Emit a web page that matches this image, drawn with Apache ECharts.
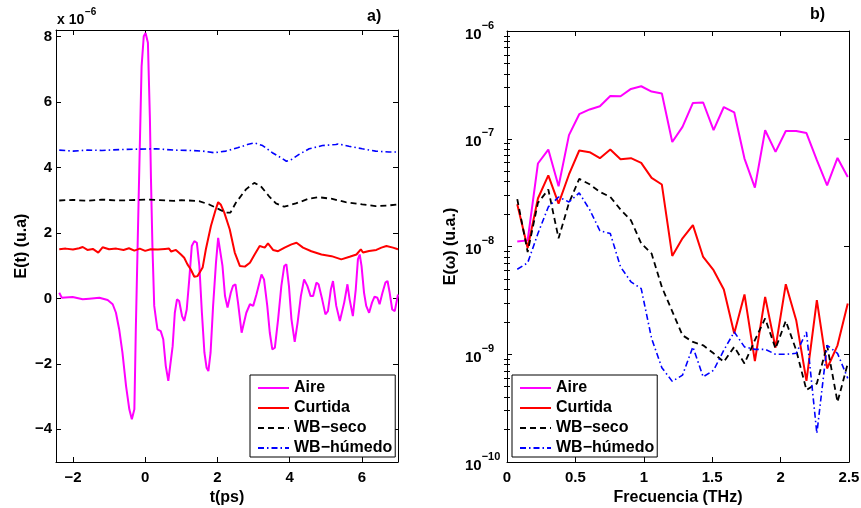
<!DOCTYPE html>
<html><head><meta charset="utf-8">
<script src="https://cdn.jsdelivr.net/npm/echarts@6/dist/echarts.min.js"></script>
<style>html,body{margin:0;padding:0;background:#fff}#c{width:861px;height:508px}</style>
</head><body><div id="c"></div>
<script>
// ---------- Data: panel a) time domain (values in units of 1e-6) ----------
const aireT = [-2.38,-2.31,-2.28,-2.01,-1.73,-1.55,-1.27,-1.04,-0.90,-0.81,-0.72,-0.63,-0.53,-0.44,-0.37,-0.30,-0.28,-0.26,-0.21,-0.17,-0.10,-0.04,0.01,0.075,0.13,0.16,0.20,0.25,0.30,0.34,0.43,0.50,0.57,0.64,0.69,0.76,0.82,0.88,0.94,1.02,1.08,1.15,1.22,1.29,1.36,1.43,1.50,1.57,1.64,1.70,1.75,1.81,1.88,1.96,2.02,2.07,2.14,2.21,2.28,2.37,2.43,2.50,2.57,2.67,2.71,2.80,2.90,2.99,3.08,3.22,3.29,3.38,3.45,3.52,3.59,3.68,3.77,3.85,3.91,3.98,4.05,4.14,4.22,4.31,4.40,4.49,4.58,4.65,4.74,4.80,4.90,4.99,5.06,5.14,5.20,5.29,5.39,5.43,5.51,5.60,5.66,5.75,5.83,5.89,5.94,5.99,6.06,6.12,6.20,6.28,6.35,6.43,6.49,6.57,6.65,6.71,6.77,6.84,6.91,7.00];
const aireV = [0.17,0.02,0.01,0.04,-0.03,-0.01,0.02,-0.05,-0.18,-0.44,-0.95,-1.66,-2.68,-3.39,-3.69,-3.39,-2.2,-0.95,1.6,3.63,7.09,8.01,8.11,7.81,5.5,3.63,1.6,-0.23,-0.64,-0.95,-1.0,-1.25,-2.07,-2.52,-2.47,-1.46,-0.44,-0.03,-0.08,-0.54,-0.69,-0.34,0.58,1.6,1.75,1.7,0.99,-0.44,-1.66,-2.12,-2.22,-1.66,-0.23,1.09,1.85,1.88,0.99,0.07,-0.28,0.17,0.38,0.43,-0.13,-1.05,-1.07,-0.44,-0.18,-0.23,0.12,0.73,0.58,-0.23,-1.05,-1.56,-1.51,-0.64,0.38,0.99,1.04,0.38,-0.64,-1.33,-0.74,0.07,0.58,0.38,0.07,0.07,0.48,0.43,-0.03,-0.49,-0.39,0.27,0.53,-0.23,-0.69,-0.64,-0.13,0.43,-0.03,-0.54,0.27,1.19,1.34,0.99,0.17,-0.23,-0.44,-0.13,0.05,0.02,-0.18,0.17,0.48,0.53,0.17,-0.34,-0.39,0.12];

const curtT = [-2.38,-2.2,-2.0,-1.83,-1.73,-1.6,-1.45,-1.30,-1.18,-1.0,-0.8,-0.6,-0.45,-0.3,-0.15,0.0,0.15,0.35,0.55,0.66,0.72,0.85,0.99,1.08,1.17,1.26,1.36,1.45,1.59,1.68,1.82,1.94,2.02,2.09,2.19,2.34,2.48,2.62,2.76,2.90,3.03,3.17,3.31,3.40,3.54,3.68,3.86,4.05,4.19,4.37,4.60,4.88,5.16,5.43,5.66,5.85,5.97,6.03,6.20,6.40,6.54,6.68,6.86,7.0];
const curtV = [1.50,1.52,1.49,1.53,1.57,1.48,1.51,1.40,1.56,1.50,1.52,1.48,1.53,1.46,1.52,1.45,1.50,1.49,1.51,1.52,1.43,1.48,1.34,1.24,1.04,0.89,0.66,0.68,0.94,1.50,2.21,2.67,2.94,2.87,2.62,2.11,1.40,0.99,0.97,1.09,1.34,1.60,1.55,1.68,1.48,1.44,1.55,1.65,1.70,1.55,1.44,1.34,1.29,1.19,1.27,1.34,1.50,1.40,1.45,1.48,1.55,1.60,1.55,1.50];

const secoT = [-2.38,-2.0,-1.6,-1.2,-0.8,-0.4,0.0,0.4,0.8,1.0,1.22,1.49,1.77,2.05,2.23,2.36,2.51,2.79,3.02,3.20,3.43,3.62,3.85,4.17,4.54,4.81,5.18,5.55,6.01,6.38,6.75,6.98];
const secoV = [2.99,3.01,2.98,3.02,2.99,3.0,3.02,3.0,2.98,3.0,2.99,2.97,2.87,2.72,2.62,2.62,2.92,3.33,3.53,3.43,3.12,2.90,2.80,2.90,3.05,3.09,3.04,2.94,2.87,2.82,2.84,2.87];

const humT = [-2.38,-2.0,-1.6,-1.2,-0.63,0.30,0.8,1.22,1.59,1.91,2.23,2.56,2.83,3.03,3.25,3.52,3.80,3.91,4.05,4.26,4.54,4.91,5.28,5.34,5.64,6.01,6.38,6.75,6.98];
const humV = [4.53,4.50,4.53,4.52,4.55,4.57,4.53,4.52,4.50,4.45,4.50,4.60,4.70,4.75,4.67,4.45,4.27,4.19,4.24,4.40,4.57,4.67,4.70,4.72,4.65,4.57,4.50,4.47,4.47];

// ---------- Data: panel b) spectrum ----------
const freq = [0.075,0.151,0.226,0.302,0.377,0.453,0.528,0.604,0.679,0.755,0.830,0.906,0.981,1.057,1.132,1.208,1.283,1.359,1.434,1.510,1.585,1.661,1.736,1.812,1.887,1.963,2.038,2.114,2.189,2.265,2.340,2.416,2.491];
const aireF = [1.11e-8,1.14e-8,5.89e-8,7.94e-8,3.62e-8,1.08e-7,1.69e-7,1.87e-7,2.0e-7,2.49e-7,2.48e-7,2.9e-7,3.07e-7,2.74e-7,2.63e-7,9.34e-8,1.29e-7,2.15e-7,2.17e-7,1.2e-7,1.97e-7,1.76e-7,6.55e-8,3.52e-8,1.2e-7,7.55e-8,1.18e-7,1.18e-7,1.13e-7,6.32e-8,3.7e-8,6.64e-8,4.42e-8];
const curtF = [2.47e-8,9.7e-9,2.79e-8,4.58e-8,2.5e-8,4.66e-8,7.78e-8,7.5e-8,6.6e-8,7.94e-8,6.45e-8,6.6e-8,5.97e-8,4.33e-8,3.76e-8,8.18e-9,1.19e-8,1.58e-8,8.0e-9,6.03e-9,3.99e-9,1.56e-9,3.59e-9,8.63e-10,3.41e-9,1.15e-9,4.47e-9,2.07e-9,5.67e-10,3.18e-9,7.38e-10,1.21e-9,2.96e-9];
const secoF = [2.75e-8,8.9e-9,2.54e-8,3.38e-8,1.19e-8,2.54e-8,4.24e-8,3.78e-8,3.21e-8,2.89e-8,2.2e-8,1.75e-8,1.07e-8,8.6e-9,4.2e-9,2.5e-9,1.5e-9,1.3e-9,1.21e-9,1.02e-9,8.5e-10,1.17e-9,8.2e-10,1.35e-9,2.15e-9,1.13e-9,2.04e-9,1.09e-9,4.65e-10,5.36e-10,1.21e-9,3.6e-10,8.2e-10];
const humF = [6.15e-9,7.05e-9,1.32e-8,2.33e-8,2.88e-8,2.59e-8,3.14e-8,2.2e-8,1.4e-8,1.32e-8,6.47e-9,4.7e-9,4.07e-9,1.4e-9,7.5e-10,5.6e-10,6.4e-10,1.17e-9,6.17e-10,7.1e-10,1.09e-9,1.61e-9,1.17e-9,1.11e-9,1.11e-9,1.0e-9,1.0e-9,1.02e-9,1.61e-9,1.84e-10,1.21e-9,1.02e-9,5.97e-10];

// ---------- Tick labels ----------
const timeTicks = [-2, 0, 2, 4, 6];
const ampTicks = [-4, -2, 0, 2, 4, 6, 8];
const freqTicks = [0, 0.5, 1, 1.5, 2, 2.5];
const decadeTicks = [1e-10, 1e-9, 1e-8, 1e-7, 1e-6];
const seriesNames = ['Aire', 'Curtida', 'WB-seco', 'WB-húmedo'];

const minorTicks = [];
[1e-10, 1e-9, 1e-8, 1e-7].forEach(d => { for (let m = 2; m <= 9; m++) minorTicks.push(+(m * d).toPrecision(3)); });

const FONT = '"Liberation Sans", Arial, Helvetica, sans-serif';
const zip = (a, b) => a.map((x, i) => [x, b[i]]);
const minus = v => String(v).replace('-', '\u2212');
const txt = (size) => ({ color: '#000', fontSize: size, fontWeight: 'bold', fontFamily: FONT });

const COLORS = ['#ff00ff', '#ff0000', '#000000', '#0000ff'];
const STYLES = [
  { width: 2, type: 'solid' },
  { width: 2, type: 'solid' },
  { width: 1.8, type: [6, 4] },
  { width: 1.6, type: [6, 3, 1.5, 3] }
];

function frameAxis(extra) {
  return Object.assign({
    type: 'value',
    axisLine: { show: true, onZero: false, lineStyle: { color: '#000', width: 1 } },
    axisTick: { show: true, inside: true, length: 5, lineStyle: { color: '#000', width: 1 } },
    axisLabel: { show: false },
    splitLine: { show: false },
    minorTick: { show: false },
    minorSplitLine: { show: false }
  }, extra);
}

const logLabel = v => {
  const e = Math.round(Math.log10(v));
  return '{b|10}{s|' + minus(e) + '}';
};

const chart = echarts.init(document.getElementById('c'), null, { renderer: 'canvas' });

const xAxes = [
  frameAxis({ gridIndex: 0, position: 'bottom', min: -2.47, max: 7,
    axisTick: { show: true, inside: true, length: 5, customValues: timeTicks, lineStyle: { color: '#000' } },
    axisLabel: Object.assign({ show: true, customValues: timeTicks, formatter: minus, margin: 8 }, txt(15)),
    name: 't(ps)', nameLocation: 'middle', nameGap: 25, nameTextStyle: txt(16) }),
  frameAxis({ gridIndex: 0, position: 'top', min: -2.47, max: 7,
    axisTick: { show: true, inside: true, length: 5, customValues: timeTicks, lineStyle: { color: '#000' } } }),
  frameAxis({ gridIndex: 1, position: 'bottom', min: 0, max: 2.5, interval: 0.5,
    axisLabel: Object.assign({ show: true, margin: 8, customValues: freqTicks }, txt(15)),
    name: 'Frecuencia (THz)', nameLocation: 'middle', nameGap: 25, nameTextStyle: txt(16) }),
  frameAxis({ gridIndex: 1, position: 'top', min: 0, max: 2.5, interval: 0.5 })
];

const supRich = {
  b: Object.assign({ lineHeight: 22, verticalAlign: 'bottom' }, txt(15)),
  s: Object.assign({ lineHeight: 12, verticalAlign: 'top' }, txt(11))
};

const yAxes = [
  frameAxis({ gridIndex: 0, position: 'left', min: -5, max: 8.2,
    axisTick: { show: true, inside: true, length: 5, customValues: ampTicks, lineStyle: { color: '#000' } },
    axisLabel: Object.assign({ show: true, customValues: ampTicks, formatter: minus, margin: 4 }, txt(15)),
    name: 'E(t) (u.a)', nameLocation: 'middle', nameGap: 26, nameRotate: 90, nameTextStyle: txt(16) }),
  frameAxis({ gridIndex: 0, position: 'right', min: -5, max: 8.2,
    axisTick: { show: true, inside: true, length: 5, customValues: ampTicks, lineStyle: { color: '#000' } } }),
  frameAxis({ gridIndex: 1, type: 'log', logBase: 10, position: 'left', min: 1e-10, max: 1e-6,
    axisTick: { show: true, inside: true, length: 5, customValues: decadeTicks, lineStyle: { color: '#000' } },
    axisLabel: { show: true, customValues: decadeTicks, formatter: logLabel, margin: 42, align: 'left', rich: supRich },
    name: 'E(\u03c9) (u.a.)', nameLocation: 'middle', nameGap: 48, nameRotate: 90, nameTextStyle: txt(16) }),
  frameAxis({ gridIndex: 1, type: 'log', logBase: 10, position: 'right', min: 1e-10, max: 1e-6,
    axisTick: { show: true, inside: true, length: 5, customValues: decadeTicks, lineStyle: { color: '#000' } } }),
  frameAxis({ gridIndex: 1, type: 'log', logBase: 10, position: 'left', min: 1e-10, max: 1e-6,
    axisLine: { show: false },
    axisTick: { show: true, inside: true, length: 3, customValues: minorTicks, lineStyle: { color: '#000' } } }),
  frameAxis({ gridIndex: 1, type: 'log', logBase: 10, position: 'right', min: 1e-10, max: 1e-6,
    axisLine: { show: false },
    axisTick: { show: true, inside: true, length: 3, customValues: minorTicks, lineStyle: { color: '#000' } } })
];

const timeData = [[aireT, aireV], [curtT, curtV], [secoT, secoV], [humT, humV]];
const specData = [aireF, curtF, secoF, humF];

const series = [];
seriesNames.forEach((n, i) => {
  series.push({ name: n, type: 'line', xAxisIndex: 0, yAxisIndex: 0,
    data: zip(timeData[i][0], timeData[i][1]), showSymbol: false, symbol: 'none',
    lineStyle: Object.assign({ color: COLORS[i] }, STYLES[i]), itemStyle: { color: COLORS[i] }, z: 2 + i });
});
seriesNames.forEach((n, i) => {
  series.push({ name: n, type: 'line', xAxisIndex: 2, yAxisIndex: 2,
    data: zip(freq, specData[i]), showSymbol: false, symbol: 'none',
    lineStyle: Object.assign({ color: COLORS[i] }, STYLES[i]), itemStyle: { color: COLORS[i] }, z: 2 + i });
});

function legendAt(left) {
  return {
    left: left, top: 375, orient: 'vertical', data: seriesNames,
    formatter: n => n.replace('-', '\u2212'),
    itemWidth: 31, itemHeight: 14, itemGap: 4,
    padding: [5, 3, 1, 7],
    borderColor: '#000', borderWidth: 1, backgroundColor: '#fff',
    selectedMode: false,
    itemStyle: { opacity: 0, borderWidth: 0 },
    textStyle: Object.assign({ lineHeight: 16, padding: 0 }, txt(16))
  };
}

const small = (text, left, top, size) => ({ type: 'text', left: left, top: top,
  style: { text: text, fill: '#000', fontSize: size, fontWeight: 'bold', fontFamily: FONT } });

chart.setOption({
  animation: false,
  backgroundColor: '#fff',
  grid: [
    { left: 56, top: 30, width: 342, height: 432, containLabel: false, outerBoundsMode: 'none' },
    { left: 507, top: 31, width: 342, height: 431, containLabel: false, outerBoundsMode: 'none' }
  ],
  xAxis: xAxes,
  yAxis: yAxes,
  legend: [legendAt(250), legendAt(512)],
  graphic: [
    small('x 10', 57, 13, 14),
    small('\u22126', 85, 7, 10),
    small('a)', 367, 9, 16),
    small('b)', 810, 7, 16)
  ],
  series: series
});
</script>
</body></html>
